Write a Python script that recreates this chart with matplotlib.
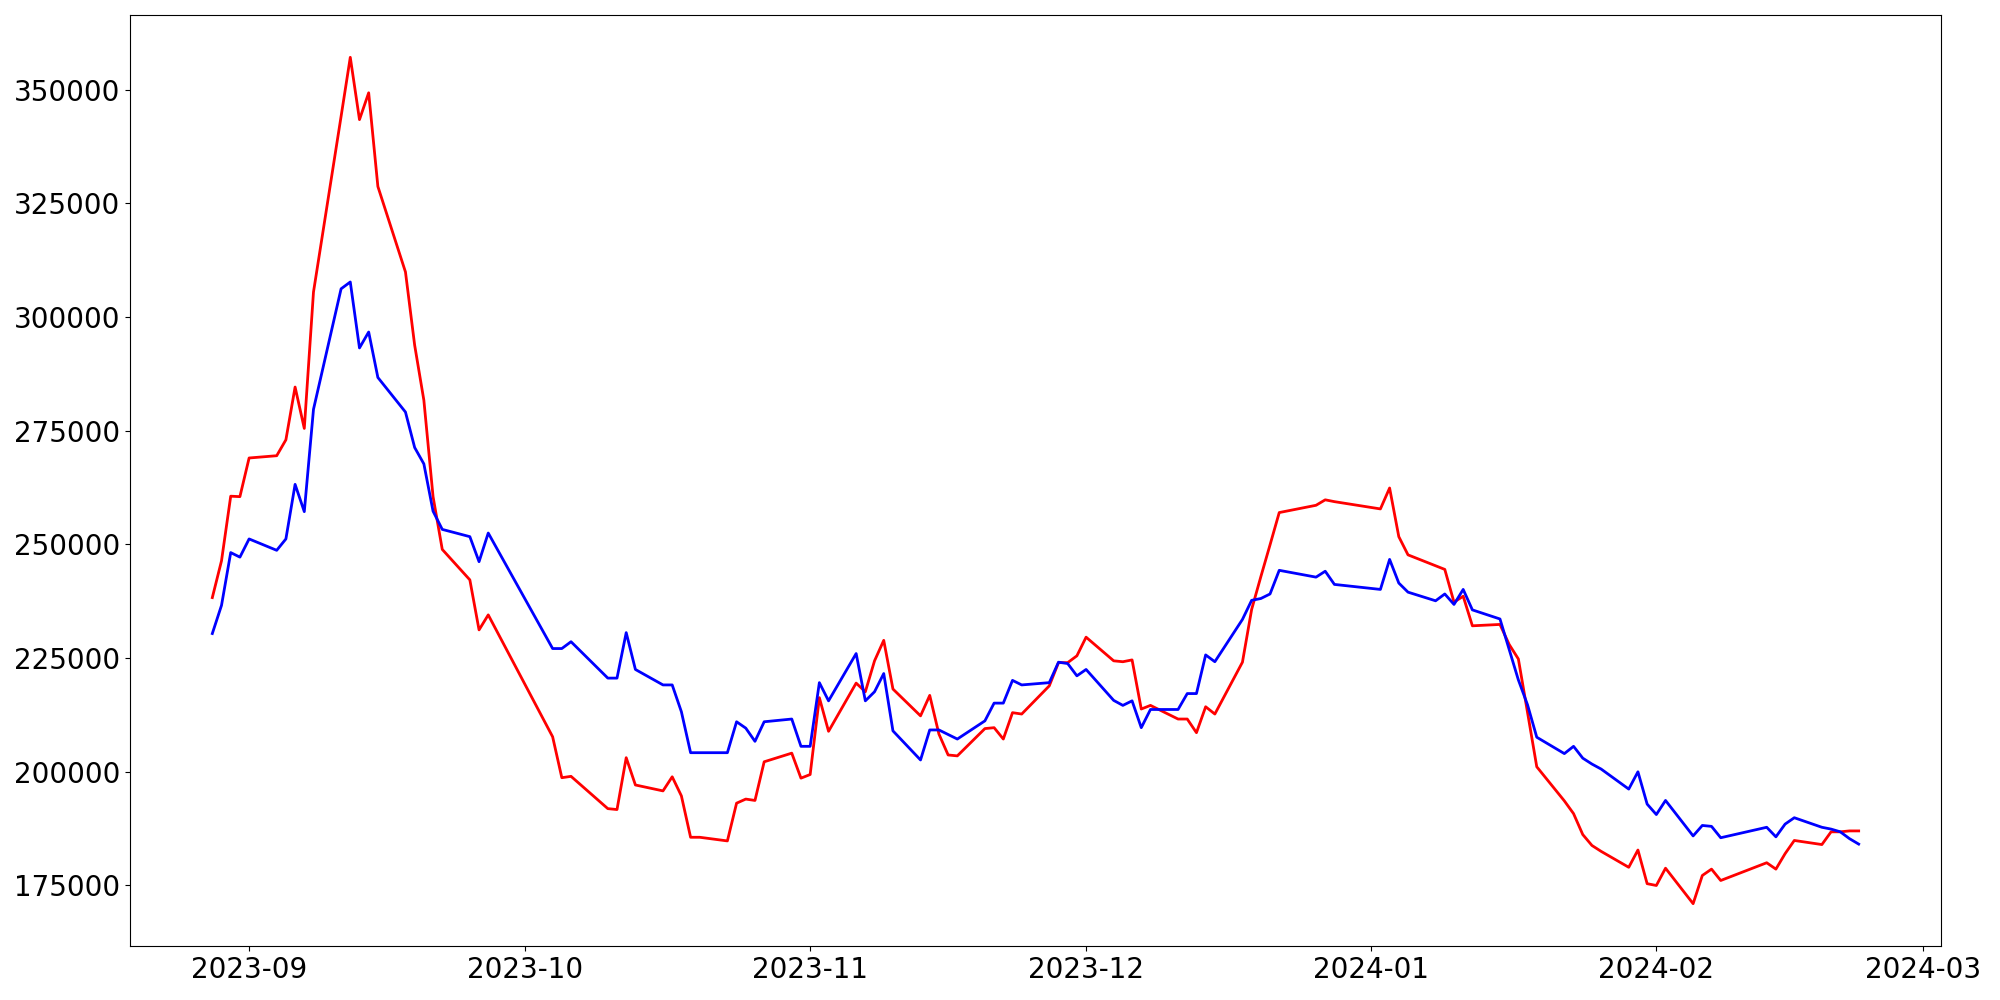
import matplotlib.pyplot as plt
import pandas as pd

# KRX trading days, Aug 28 2023 - Feb 23 2024
holidays = ['2023-09-28', '2023-09-29', '2023-10-02', '2023-10-03', '2023-10-09',
            '2023-12-25', '2023-12-29', '2024-01-01', '2024-02-09', '2024-02-12']
dates = pd.bdate_range('2023-08-28', '2024-02-23', freq='C', holidays=holidays)

red_values = [
    238300, 246400, 260600, 260500, 269000,
    269500, 273000, 284600, 275500, 305500,
    344100, 357100, 343400, 349300, 328700,
    309900, 293800, 281700, 260500, 248900,
    242200, 231200, 234500,
    207700, 198700, 199000,
    191900, 191700, 203100, 197100,
    195800, 198900, 194700, 185600, 185600,
    184800, 193100, 194000, 193700, 202200,
    204100, 198600, 199400, 216300, 208900,
    219500, 217600, 224400, 228900, 218200,
    212300, 216800, 208300, 203700, 203500,
    209500, 209700, 207200, 213000, 212700,
    218900, 224000, 224000, 225500, 229600,
    224400, 224200, 224600, 213800, 214600,
    211600, 211600, 208600, 214300, 212700,
    224100, 235700, 242900, 249900, 257000,
    258600, 259800, 259400,
    257800, 262400, 251700, 247700,
    245300, 244500, 237300, 238600, 232100,
    232400, 228000, 224800, 213000, 201100,
    193600, 190800, 186200, 183800, 182500,
    179000, 182800, 175400, 175000, 178800,
    171000, 177200, 178600, 176100,
    180000, 178600, 182000, 184900,
    184000, 186800, 186800, 187000, 187000,
]

blue_values = [
    230400, 236600, 248200, 247200, 251200,
    248700, 251200, 263200, 257200, 279700,
    306200, 307700, 293200, 296700, 286700,
    279100, 271300, 267700, 257300, 253300,
    251700, 246200, 252500,
    227100, 227100, 228600,
    220600, 220600, 230600, 222500,
    219100, 219100, 213200, 204200, 204200,
    204200, 211000, 209600, 206700, 211000,
    211600, 205600, 205600, 219600, 215600,
    226000, 215600, 217600, 221600, 209000,
    202600, 209200, 209200, 208200, 207200,
    211200, 215100, 215100, 220100, 219100,
    219600, 224100, 223800, 221100, 222500,
    215700, 214600, 215600, 209700, 213700,
    213700, 217200, 217200, 225700, 224200,
    233500, 237700, 238100, 239100, 244300,
    242800, 244100, 241200,
    240100, 246700, 241500, 239500,
    237600, 239100, 236800, 240100, 235600,
    233600, 226900, 220200, 214700, 207600,
    204000, 205600, 203000, 201700, 200600,
    196200, 200000, 192900, 190600, 193700,
    185900, 188200, 188000, 185500,
    187800, 185700, 188500, 189900,
    187800, 187400, 186800, 185300, 184100,
]

fig, ax = plt.subplots(figsize=(20, 10), dpi=100)
ax.plot(dates, red_values, color='red', linewidth=2)
ax.plot(dates, blue_values, color='blue', linewidth=2)

ax.tick_params(labelsize=20)
fig.subplots_adjust(left=0.065, right=0.9705, top=0.985, bottom=0.054)
plt.savefig('out.png')
